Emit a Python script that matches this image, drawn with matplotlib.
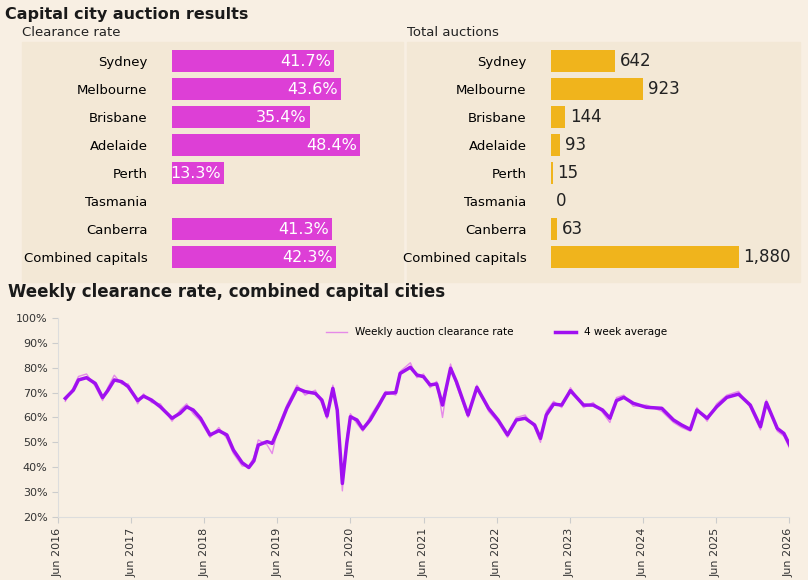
import matplotlib.pyplot as plt
import matplotlib.patches as mpatches
import numpy as np

cities = ['Sydney', 'Melbourne', 'Brisbane', 'Adelaide', 'Perth', 'Tasmania', 'Canberra', 'Combined capitals']
clearance = [41.7, 43.6, 35.4, 48.4, 13.3, np.nan, 41.3, 42.3]
totals = [642, 923, 144, 93, 15, 0, 63, 1880]

# years since Jun 2016
t = [0.10, 0.21, 0.28, 0.39, 0.51, 0.61, 0.68, 0.77, 0.87, 0.96, 1.09, 1.17, 1.28, 1.40, 1.56, 1.67,
     1.76, 1.85, 1.95, 2.08, 2.20, 2.31, 2.40, 2.52, 2.61, 2.68, 2.74, 2.86, 2.93, 3.02, 3.13, 3.27,
     3.38, 3.52, 3.61, 3.68, 3.76, 3.82, 3.89, 3.95, 4.00, 4.09, 4.17, 4.27, 4.39, 4.48, 4.62, 4.68,
     4.82, 4.91, 5.00, 5.09, 5.18, 5.26, 5.37, 5.45, 5.61, 5.73, 5.89, 6.02, 6.15, 6.27, 6.39, 6.52,
     6.60, 6.68, 6.78, 6.89, 7.01, 7.19, 7.32, 7.45, 7.55, 7.64, 7.74, 7.87, 8.05, 8.26, 8.42, 8.53,
     8.65, 8.74, 8.88, 9.01, 9.15, 9.31, 9.47, 9.61, 9.69, 9.84, 9.93, 10.01]
avg4 = [67.7, 71.0, 75.1, 76.0, 73.7, 68.0, 70.8, 75.1, 74.4, 72.4, 66.8, 68.6, 67.0, 64.3, 59.7, 61.7,
        64.3, 63.0, 59.7, 53.0, 54.7, 53.0, 46.9, 41.8, 39.9, 42.6, 48.9, 50.3, 49.6, 55.6, 63.7, 71.7,
        70.4, 69.7, 67.0, 60.6, 71.7, 63.0, 33.5, 49.6, 60.3, 59.0, 55.4, 59.0, 65.0, 69.7, 70.0, 77.7,
        80.2, 77.1, 76.4, 73.1, 73.5, 65.0, 79.8, 74.4, 61.0, 72.1, 63.7, 59.0, 53.0, 59.0, 59.7, 57.0,
        51.6, 61.0, 65.4, 65.0, 70.8, 65.0, 65.0, 63.0, 59.7, 66.8, 68.1, 65.7, 64.1, 63.7, 59.0, 57.0,
        55.2, 63.0, 59.7, 64.3, 68.1, 69.4, 65.0, 56.3, 66.0, 55.6, 53.6, 48.9]
weekly = [66.5, 72.0, 76.5, 77.5, 72.5, 66.8, 72.0, 77.0, 73.5, 73.5, 65.5, 69.5, 66.0, 65.5, 58.5, 63.0,
          65.5, 61.5, 58.5, 52.0, 56.0, 51.5, 45.5, 40.5, 40.5, 44.0, 51.0, 49.0, 45.5, 57.0, 65.0, 73.0,
          69.0, 71.0, 65.5, 59.5, 73.0, 61.5, 30.5, 52.0, 61.5, 57.5, 54.5, 60.5, 66.0, 70.5, 69.0, 78.5,
          82.0, 76.0, 77.5, 72.0, 74.5, 60.0, 81.5, 73.0, 60.0, 73.0, 62.5, 58.0, 52.0, 60.0, 61.0, 56.0,
          50.0, 62.5, 66.5, 64.0, 72.0, 64.0, 66.0, 62.0, 58.0, 68.0, 69.0, 64.5, 65.0, 62.5, 58.0, 56.0,
          54.5, 64.0, 58.5, 65.5, 69.0, 70.5, 64.0, 55.0, 67.0, 54.5, 52.5, 47.5]
years = list(range(2016, 2027))

bg = '#f8efe3'
panel = '#f3e8d6'
W, H = 808, 580
fig = plt.figure(figsize=(8.08, 5.8), dpi=100, facecolor=bg)

def ax_px(x0, y0, x1, y1):
    return fig.add_axes([x0 / W, 1 - y1 / H, (x1 - x0) / W, (y1 - y0) / H])

# panel backgrounds (behind the axes)
for x0, w in [(22, 381), (407, 393)]:
    fig.patches.append(mpatches.Rectangle((x0 / W, 1 - 282 / H), w / W, 240 / H,
                                          transform=fig.transFigure, color=panel, zorder=-5))

fig.text(5 / W, 1 - 15 / H, 'Capital city auction results', fontsize=11.5, fontweight='bold', va='center', color='#1a1a1a')
fig.text(22 / W, 1 - 32 / H, 'Clearance rate', fontsize=9.5, va='center', color='#222')
fig.text(407 / W, 1 - 32 / H, 'Total auctions', fontsize=9.5, va='center', color='#222')
fig.text(8 / W, 1 - 292 / H, 'Weekly clearance rate, combined capital cities', fontsize=12, fontweight='bold', va='center', color='#1a1a1a')

y = np.arange(len(cities))

# clearance rate bars
ax1 = ax_px(172, 47, 360, 271)
ax1.barh(y, clearance, height=0.8, color='#dd3fd6')
ax1.set_xlim(0, 48.4)
ax1.set_ylim(7.5, -0.5)
for i, v in enumerate(clearance):
    if not np.isnan(v):
        ax1.text(v - 0.8, i, f'{v:.1f}%', color='white', fontsize=11.5, ha='right', va='center')
ax1.set_yticks(y, cities, fontsize=9.5)
ax1.tick_params(left=False, bottom=False, labelbottom=False, pad=14)
ax1.set_facecolor('none')
for s in ax1.spines.values():
    s.set_visible(False)

# total auctions bars
ax2 = ax_px(551, 47, 739, 271)
ax2.barh(y, totals, height=0.8, color='#f0b41c')
ax2.set_xlim(0, 1880)
ax2.set_ylim(7.5, -0.5)
for i, v in enumerate(totals):
    ax2.text(v + 45, i, f'{v:,}', color='#222', fontsize=12, ha='left', va='center')
ax2.set_yticks(y, cities, fontsize=9.5)
ax2.tick_params(left=False, bottom=False, labelbottom=False, pad=14)
ax2.set_facecolor('none')
for s in ax2.spines.values():
    s.set_visible(False)

# line chart
ax3 = ax_px(58, 318, 789, 517)
ax3.set_facecolor('none')
ax3.plot(t, weekly, color='#e58ae8', lw=1, label='Weekly auction clearance rate')
ax3.plot(t, avg4, color='#a010f0', lw=2.5, label='4 week average')
ax3.set_xlim(0, 10)
ax3.set_ylim(20, 100)
ax3.set_yticks(range(20, 101, 10), [f'{v}%' for v in range(20, 101, 10)], fontsize=8, color='#333')
ax3.set_xticks([yr - 2016 for yr in years], [f'Jun {yr}' for yr in years], rotation=90, fontsize=8, color='#333')
ax3.tick_params(colors='#ccc', labelcolor='#333', length=4)
for s in ['top', 'right']:
    ax3.spines[s].set_visible(False)
for s in ['left', 'bottom']:
    ax3.spines[s].set_color('#ddd')
ax3.legend(loc='upper center', bbox_to_anchor=(0.6, 1.0), ncol=2, frameon=False, fontsize=7.5, columnspacing=4)

fig.savefig('out.png', dpi=100, facecolor=bg)
